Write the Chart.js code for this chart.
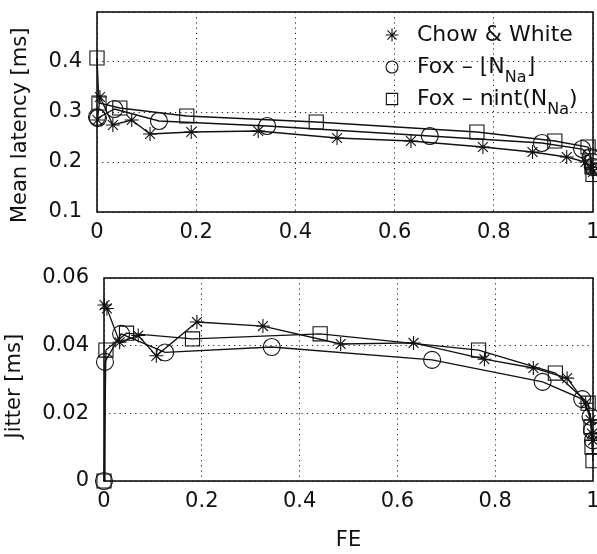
<!DOCTYPE html>
<html>
<head>
<meta charset="utf-8">
<script src="https://cdn.jsdelivr.net/npm/chart.js@4/dist/chart.umd.min.js"></script>
<style>
html, body { margin:0; padding:0; background:#fff; overflow:hidden; }
#wrap { position:relative; width:597px; height:554px; }
#top { position:absolute; left:0; top:0; }
#bot { position:absolute; left:0; top:260px; }
</style>
</head>
<body>
<div id="wrap">
<canvas id="top" width="597" height="260"></canvas>
<canvas id="bot" width="597" height="294"></canvas>
</div>
<script>
/* ============ DATA ============ */

// x positions (FE) of each series
const feChow = [0.001, 0.006, 0.032, 0.07, 0.107, 0.19, 0.325, 0.484, 0.633, 0.778, 0.878, 0.947, 0.985, 0.995, 0.998, 1.0];
const feFloor = [0, 0.002, 0.035, 0.125, 0.343, 0.671, 0.897, 0.978, 0.995, 0.998, 1.0];
const feNint = [0, 0.004, 0.046, 0.181, 0.442, 0.766, 0.923, 0.99, 0.996, 0.998, 1.0];

// mean latency [ms]
const latChow = [0.284, 0.33, 0.274, 0.284, 0.256, 0.26, 0.262, 0.248, 0.242, 0.23, 0.22, 0.21, 0.2, 0.19, 0.185, 0.18];
const latFloor = [0.29, 0.288, 0.306, 0.282, 0.272, 0.252, 0.238, 0.226, 0.21, 0.2, 0.19];
const latNint = [0.408, 0.318, 0.308, 0.292, 0.28, 0.26, 0.242, 0.23, 0.21, 0.19, 0.175];

// jitter [ms]
const jitChow = [0.052, 0.051, 0.041, 0.043, 0.037, 0.047, 0.0458, 0.0405, 0.0408, 0.036, 0.0334, 0.0304, 0.023, 0.018, 0.014, 0.012];
const jitFloor = [0, 0.0352, 0.0435, 0.038, 0.0396, 0.0358, 0.0293, 0.0242, 0.019, 0.015, 0.012];
const jitNint = [0, 0.0387, 0.0437, 0.042, 0.0435, 0.0387, 0.0319, 0.023, 0.016, 0.01, 0.006];

const xTicks = [0, 0.2, 0.4, 0.6, 0.8, 1];
const latTicks = [0.1, 0.2, 0.3, 0.4, 0.5];
const jitTicks = [0, 0.02, 0.04, 0.06];

const FONT = "'DejaVu Sans', sans-serif";

/* ============ HELPERS ============ */

function pts(xs, ys){
  return xs.map((x,i)=>({x:x, y:ys[i]}));
}

function serie(data, style, r){
  return {
    data: data,
    showLine: true,
    borderColor: "#111",
    backgroundColor: "rgba(0,0,0,0)",
    borderWidth: 1.3,
    pointStyle: style,
    pointRadius: r,
    pointBorderWidth: 1.1,
    pointBorderColor: "#111",
    pointBackgroundColor: "rgba(0,0,0,0)",
    clip: false,
    tension: 0
  };
}

// fija el area del grafico (como los ejes de MATLAB)
function areaPlugin(l, r, t, b){
  return {
    id: "area",
    afterLayout(chart){
      const a = chart.chartArea;
      a.left = l; a.right = r; a.top = t; a.bottom = b;
      a.width = r - l; a.height = b - t;
      const x = chart.scales.x, y = chart.scales.y;
      x.left = l; x.right = r; x.width = r - l;
      x.top = b; x.bottom = chart.height; x.height = chart.height - b;
      y.left = 0; y.right = l; y.width = l;
      y.top = t; y.bottom = b; y.height = b - t;
      x.configure(); y.configure();
    }
  };
}

// marco del area (box on)
const framePlugin = {
  id: "frame",
  afterDraw(chart){
    const a = chart.chartArea;
    const c = chart.ctx;
    c.save();
    c.strokeStyle = "#111";
    c.lineWidth = 1.6;
    c.strokeRect(a.left, a.top, a.right - a.left, a.bottom - a.top);
    c.restore();
  }
};

// leyenda con subindices
const legendPlugin = {
  id: "legendSub",
  afterDraw(chart){
    const c = chart.ctx;
    c.save();
    c.strokeStyle = "#111";
    c.fillStyle = "rgba(0,0,0,0)";
    const mx = 392, tx = 417;
    const rows = [35, 67, 99];
    const big = "22px " + FONT, small = "16px " + FONT;

    Chart.helpers.drawPoint(c, {pointStyle:"star", radius:6.5, borderWidth:1.1}, mx, rows[0]);
    Chart.helpers.drawPoint(c, {pointStyle:"circle", radius:6, borderWidth:1.1}, mx, rows[1]);
    Chart.helpers.drawPoint(c, {pointStyle:"rect", radius:8, borderWidth:1.1}, mx, rows[2]);

    c.fillStyle = "#111";
    c.textBaseline = "middle";
    c.textAlign = "left";
    c.font = big;
    c.fillText("Chow & White", tx, rows[0]);

    let x = tx;
    let s = "Fox \u2013 \u230AN";
    c.fillText(s, x, rows[1]); x += c.measureText(s).width;
    c.font = small;
    c.fillText("Na", x, rows[1] + 11); x += c.measureText("Na").width;
    c.font = big;
    c.fillText("\u230B", x, rows[1]);

    x = tx;
    s = "Fox \u2013 nint(N";
    c.fillText(s, x, rows[2]); x += c.measureText(s).width;
    c.font = small;
    c.fillText("Na", x, rows[2] + 11); x += c.measureText("Na").width;
    c.font = big;
    c.fillText(")", x, rows[2]);
    c.restore();
  }
};

function ejeX(ticks, titulo){
  return {
    type: "linear",
    min: 0, max: 1,
    afterBuildTicks: s => { s.ticks = ticks.map(v=>({value:v})); },
    ticks: {
      color: "#111",
      font: {family: FONT, size: 21},
      padding: 8,
      maxRotation: 0,
      callback: v => String(v)
    },
    grid: {
      color: "#222",
      lineWidth: 1,
      drawTicks: false
    },
    border: {display: false, dash: [1.2, 4]},
    title: titulo ? {
      display: true, text: titulo, color: "#111",
      font: {family: FONT, size: 21}, padding: {top: 0, bottom: 1}
    } : {display: false}
  };
}

function ejeY(min, max, ticks, titulo, tpad, ocultar){
  return {
    type: "linear",
    min: min, max: max,
    afterBuildTicks: s => { s.ticks = ticks.map(v=>({value:v})); },
    ticks: {
      color: "#111",
      font: {family: FONT, size: 21},
      padding: 15,
      callback: v => (ocultar.includes(v) ? "" : String(v))
    },
    grid: {
      color: "#222",
      lineWidth: 1,
      drawTicks: false
    },
    border: {display: false, dash: [1.2, 4]},
    title: {
      display: true, text: titulo, color: "#111",
      font: {family: FONT, size: 21}, padding: {top: tpad, bottom: 0}
    }
  };
}

/* ============ GRAFICO SUPERIOR ============ */

new Chart(document.getElementById("top"), {
  type: "scatter",
  data: {
    datasets: [
      serie(pts(feChow, latChow), "star", 7),
      serie(pts(feFloor, latFloor), "circle", 8.5),
      serie(pts(feNint, latNint), "rect", 10)
    ]
  },
  options: {
    responsive: false,
    animation: false,
    events: [],
    plugins: {legend: {display: false}, tooltip: {enabled: false}},
    scales: {
      x: ejeX(xTicks, null),
      // espacios al final: bajan el titulo girado
      y: ejeY(0.1, 0.5, latTicks, "Mean latency [ms]    ", 8, [0.5])
    }
  },
  plugins: [areaPlugin(97, 593, 12, 212), framePlugin, legendPlugin]
});

/* ============ GRAFICO INFERIOR ============ */

new Chart(document.getElementById("bot"), {
  type: "scatter",
  data: {
    datasets: [
      serie(pts(feChow, jitChow), "star", 7),
      serie(pts(feFloor, jitFloor), "circle", 8.5),
      serie(pts(feNint, jitNint), "rect", 10)
    ]
  },
  options: {
    responsive: false,
    animation: false,
    events: [],
    plugins: {legend: {display: false}, tooltip: {enabled: false}},
    scales: {
      x: ejeX(xTicks, "FE"),
      y: ejeY(0, 0.06, jitTicks, "Jitter [ms]  ", 2, [])
    }
  },
  plugins: [areaPlugin(104, 593, 18, 221), framePlugin]
});
</script>
</body>
</html>
